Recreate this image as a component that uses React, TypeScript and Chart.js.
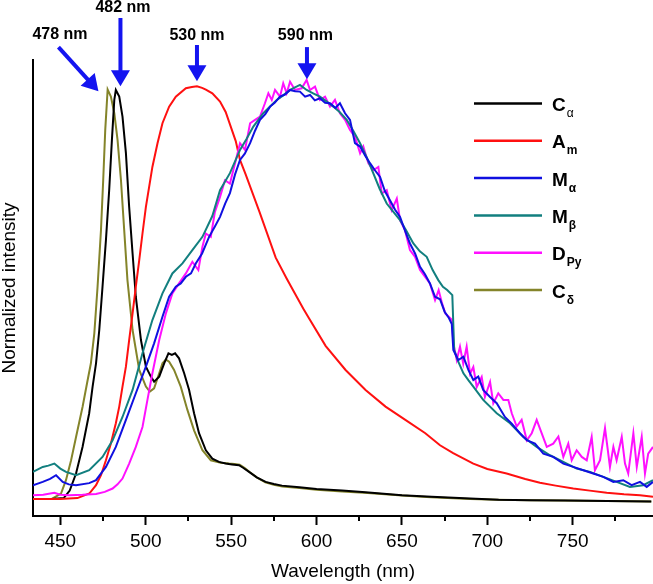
import { useEffect, useRef } from 'react';
import { Chart, registerables } from 'chart.js';

Chart.register(...registerables);

const FONT = "'Liberation Sans', Arial, Helvetica, sans-serif";

const X_MIN = 434;
const X_MAX = 797;
const Y_MIN = -0.031;
const Y_MAX = 1.065;
const majorTicks = [450, 500, 550, 600, 650, 700, 750];
const minorTicks = [475, 525, 575, 625, 675, 725, 775];

const seriesNames = ['Cα', 'Am', 'Mα', 'Mβ', 'DPy', 'Cδ'];
const legendMain = ['C', 'A', 'M', 'M', 'D', 'C'];
const legendSub = ['α', 'm', 'α', 'β', 'Py', 'δ'];
const legendSubBold = [false, true, true, true, true, true];
const seriesColors = ['#000000', '#ff1010', '#1010e0', '#127f7f', '#ff10ff', '#84842a'];

const peakLabels = ['482 nm', '478 nm', '530 nm', '590 nm'];
const peakLabelX = [486.7, 449.8, 530.0, 593.5];
const peakLabelY = [1.192, 1.127, 1.123, 1.123];
const arrowFromX = [485.2, 448.9, 530.0, 594.4];
const arrowFromY = [1.166, 1.096, 1.101, 1.096];
const arrowToX = [485.2, 472.3, 530.0, 594.4];
const arrowToY = [1.002, 0.99, 1.014, 1.019];

const cAlpha = [
  [434, 0.01], [445, 0.01], [452, 0.012], [455.5, 0.03], [459.2, 0.071], [463.0, 0.135], [466.9, 0.216],
  [468.9, 0.28], [470.9, 0.336], [472.8, 0.416], [474.7, 0.52], [476.7, 0.632], [478.6, 0.752],
  [480.2, 0.873], [481.6, 0.969], [482.5, 0.993], [484.5, 0.977], [486.4, 0.929], [488.4, 0.841],
  [490.3, 0.712], [492.3, 0.6], [494.2, 0.496], [497.2, 0.392], [500.1, 0.328], [503.0, 0.304],
  [504.9, 0.292], [507.9, 0.304], [510.8, 0.336], [513.3, 0.36], [515.3, 0.356], [517.2, 0.36],
  [519.5, 0.348], [522.5, 0.312], [525.4, 0.272], [528.3, 0.216], [531.2, 0.168], [535.2, 0.127],
  [539.0, 0.107], [542.9, 0.099], [546.8, 0.095], [550.5, 0.093], [554.6, 0.091], [557.0, 0.085],
  [560.5, 0.075], [565.0, 0.062], [570.2, 0.051], [575.0, 0.046], [579.8, 0.042], [590.0, 0.038],
  [600.0, 0.034], [615.0, 0.03], [628.7, 0.026], [650.0, 0.019], [667.4, 0.015], [690.0, 0.011],
  [706.6, 0.008], [725.0, 0.007], [745.6, 0.006], [770.0, 0.005], [796.0, 0.004],
];

const aM = [
  [434, 0.01], [450, 0.01], [460, 0.012], [467.0, 0.023], [470.9, 0.043], [473.8, 0.067], [476.7, 0.103],
  [479.6, 0.143], [482.5, 0.192], [484.5, 0.232], [486.4, 0.28], [488.4, 0.328], [490.3, 0.392],
  [492.3, 0.456], [494.2, 0.52], [496.2, 0.584], [498.1, 0.648], [500.1, 0.712], [502.0, 0.76],
  [503.9, 0.808], [506.9, 0.865], [509.8, 0.913], [513.7, 0.953], [517.6, 0.977], [523.5, 0.997],
  [527.0, 1.0], [530.0, 1.002], [533.0, 0.998], [535.2, 0.994], [539.0, 0.985], [543.5, 0.965],
  [546.8, 0.94], [552.7, 0.87], [555.2, 0.825], [558.5, 0.79], [566.6, 0.7], [576.1, 0.59],
  [582.5, 0.54], [585.8, 0.515], [592.2, 0.468], [595.5, 0.445], [605.3, 0.378], [617.0, 0.32],
  [628.7, 0.272], [640.4, 0.232], [652.0, 0.2], [663.7, 0.168], [672.3, 0.139], [680, 0.12],
  [691.8, 0.095], [700, 0.082], [711.3, 0.071], [722.2, 0.058], [730.8, 0.049], [740, 0.042],
  [750.3, 0.035], [760, 0.03], [769.9, 0.025], [780, 0.021], [789.4, 0.019], [797, 0.015],
];

const mAlpha = [
  [434, 0.043], [439.7, 0.051], [444, 0.058], [447.5, 0.067], [451.4, 0.051], [455, 0.045], [459.2, 0.043],
  [466.9, 0.048], [470.9, 0.055], [476.7, 0.087], [482.5, 0.135], [488.4, 0.2], [494.2, 0.264],
  [500.1, 0.328], [504.9, 0.384], [509.8, 0.448], [513.7, 0.496], [517.6, 0.52], [520.5, 0.528],
  [523.5, 0.544], [526.5, 0.552], [529.3, 0.576], [533, 0.6], [537.1, 0.64], [540.5, 0.665],
  [543.5, 0.688], [546.5, 0.72], [549.3, 0.745], [552.3, 0.79], [555.2, 0.825], [558, 0.84],
  [561.1, 0.865], [564, 0.895], [566.9, 0.921], [570, 0.935], [572.8, 0.953], [575.5, 0.962],
  [578.6, 0.977], [581.5, 0.982], [584.5, 0.993], [587.5, 0.99], [590.3, 0.989], [593.3, 0.977],
  [596.2, 0.981], [599, 0.968], [602.0, 0.973], [605, 0.962], [607.9, 0.961], [611, 0.95], [613.7, 0.961],
  [616.7, 0.937], [619.6, 0.921], [622.5, 0.865], [625.5, 0.857], [628.5, 0.835], [631.3, 0.817],
  [634.2, 0.8], [637.2, 0.784], [640, 0.75], [643.0, 0.728], [646, 0.705], [648.9, 0.688], [651.8, 0.655],
  [654.7, 0.624], [657.7, 0.6], [660.6, 0.568], [663.5, 0.55], [666.4, 0.528], [669.4, 0.496],
  [672.3, 0.49], [675, 0.46], [677.5, 0.445], [679.2, 0.43], [680.1, 0.368], [683, 0.344], [686, 0.352],
  [688.9, 0.32], [691.8, 0.296], [694.7, 0.304], [697.6, 0.272], [701.6, 0.255], [705.5, 0.24],
  [710.3, 0.207], [714.3, 0.191], [719.1, 0.168], [723.1, 0.151], [727.9, 0.143], [732.8, 0.119],
  [738.6, 0.111], [744.5, 0.095], [750.3, 0.087], [756.2, 0.079], [762.0, 0.071], [767.9, 0.063],
  [773.8, 0.051], [779.6, 0.055], [784.5, 0.043], [789.4, 0.051], [793.3, 0.039], [797, 0.051],
];

const mBeta = [
  [434, 0.075], [439.7, 0.087], [443, 0.09], [446.5, 0.095], [450, 0.083], [453.3, 0.075], [459.2, 0.067],
  [466.9, 0.079], [474.7, 0.111], [480.6, 0.151], [486.4, 0.207], [492.3, 0.272], [498.1, 0.36],
  [503.9, 0.44], [509.8, 0.504], [515.6, 0.552], [521.5, 0.576], [527.3, 0.608], [533.2, 0.64],
  [539.0, 0.69], [543.5, 0.752], [549.3, 0.793], [555.2, 0.849], [559, 0.875], [563.0, 0.905],
  [568.8, 0.937], [572.5, 0.952], [576.7, 0.969], [580.5, 0.98], [584.5, 0.993], [590.3, 1.005],
  [594.2, 0.993], [598, 0.985], [602.0, 0.977], [606, 0.965], [609.8, 0.953], [613.5, 0.94],
  [617.7, 0.921], [621.5, 0.895], [625.5, 0.865], [629.5, 0.83], [633.2, 0.793], [637, 0.755],
  [641.1, 0.72], [645, 0.7], [648.9, 0.68], [652.5, 0.655], [656.7, 0.624], [660.5, 0.605],
  [664.5, 0.592], [668, 0.56], [671.3, 0.536], [674, 0.52], [676.5, 0.512], [679.5, 0.5],
  [680.6, 0.368], [683, 0.34], [686, 0.312], [689, 0.295], [691.8, 0.28], [697.6, 0.248],
  [705.5, 0.216], [713.3, 0.192], [721.1, 0.159], [728.9, 0.135], [736.7, 0.115], [744.5, 0.099],
  [752.3, 0.083], [760.1, 0.075], [767.9, 0.063], [775.7, 0.051], [783.5, 0.039], [791.3, 0.043],
  [797, 0.055],
];

const dPy = [
  [434, 0.019], [440, 0.02], [446.5, 0.025], [450, 0.02], [455.3, 0.019], [463, 0.02], [470.9, 0.022],
  [476, 0.027], [480.6, 0.035], [483.5, 0.045], [486.4, 0.059], [490.3, 0.095], [494.2, 0.135],
  [498.1, 0.183], [501.0, 0.248], [503.9, 0.312], [507.9, 0.392], [511.8, 0.456], [515.6, 0.504],
  [519.5, 0.528], [523.5, 0.552], [527.3, 0.58], [530.8, 0.56], [533.2, 0.616], [535.2, 0.648],
  [538.1, 0.64], [540.5, 0.7], [543.5, 0.736], [546.4, 0.776], [549.3, 0.768], [552.3, 0.817],
  [555.2, 0.865], [558.1, 0.849], [561.1, 0.913], [564.0, 0.921], [566.9, 0.929], [569.8, 0.961],
  [571.8, 0.985], [573.8, 0.969], [575.7, 0.993], [578.6, 0.977], [580.5, 1.009], [582.5, 0.985],
  [584.5, 1.013], [587.4, 0.993], [591.3, 0.997], [594.2, 1.017], [596.2, 0.993], [599.1, 1.001],
  [602.0, 0.969], [605.0, 0.977], [607.9, 0.953], [610.8, 0.969], [613.7, 0.937], [616.7, 0.921],
  [619.6, 0.897], [622.5, 0.881], [625.5, 0.841], [627.4, 0.857], [630.3, 0.817], [633.2, 0.8],
  [636.2, 0.808], [638.2, 0.744], [641.1, 0.752], [644.0, 0.704], [647.0, 0.732], [648.9, 0.68],
  [651.8, 0.656], [654.7, 0.608], [657.7, 0.592], [660.6, 0.56], [663.5, 0.544], [666.4, 0.528],
  [669.4, 0.488], [671.5, 0.512], [673.5, 0.48], [675.4, 0.456], [677.4, 0.448], [679.3, 0.44],
  [680.1, 0.384], [682.1, 0.344], [684.0, 0.376], [685.9, 0.335], [687.9, 0.376], [689.9, 0.311],
  [691.8, 0.327], [693.8, 0.279], [696.7, 0.303], [698.6, 0.255], [701.6, 0.291], [703.5, 0.24],
  [706.4, 0.264], [709.4, 0.248], [712.3, 0.248], [714.3, 0.216], [717.2, 0.184], [720.1, 0.2],
  [723.1, 0.151], [726.0, 0.168], [728.9, 0.2], [731.8, 0.168], [734.8, 0.135], [738.6, 0.143],
  [741.6, 0.16], [744.5, 0.111], [747.4, 0.143], [749.4, 0.103], [752.3, 0.127], [755.3, 0.111],
  [758.2, 0.103], [761.1, 0.159], [763.0, 0.079], [766.0, 0.103], [768.9, 0.18], [771.8, 0.087],
  [773.8, 0.135], [775.7, 0.103], [778.7, 0.159], [780.6, 0.095], [782.5, 0.071], [785.5, 0.168],
  [787.5, 0.087], [790.4, 0.159], [792.3, 0.071], [794.2, 0.119], [797, 0.135],
];

const cDelta = [
  [434, 0.01], [445, 0.01], [450.4, 0.023], [453.3, 0.055], [456.3, 0.103], [459.2, 0.159], [463.0, 0.231],
  [466.0, 0.296], [467.9, 0.336], [469.9, 0.408], [471.8, 0.52], [473.8, 0.656], [475.1, 0.776],
  [476.3, 0.897], [477.7, 0.994], [479.6, 0.977], [481.6, 0.937], [483.5, 0.873], [485.5, 0.776],
  [487.4, 0.656], [489.3, 0.536], [492.3, 0.416], [496.2, 0.32], [500.1, 0.28], [502.4, 0.268],
  [504.9, 0.276], [507.9, 0.312], [509.8, 0.336], [511.8, 0.345], [513.7, 0.34], [516.6, 0.32],
  [520.5, 0.28], [524.4, 0.224], [528.3, 0.175], [533.2, 0.127], [538.1, 0.103], [543.9, 0.097],
  [548.8, 0.095], [552, 0.094], [555, 0.092], [558, 0.084], [561, 0.074], [565, 0.062], [570, 0.05],
  [575, 0.044], [580, 0.04], [590, 0.036], [600, 0.032], [615, 0.028], [630, 0.024], [650, 0.018],
  [667, 0.014], [690, 0.01], [706, 0.008], [725, 0.007], [745, 0.006], [770, 0.005], [796, 0.004],
];

const allSeries = [cAlpha, aM, mAlpha, mBeta, dPy, cDelta];
// draw order: later datasets on top
const drawOrder = [2, 3, 4, 1, 0, 5];

const decorPlugin = {
  id: 'decor',
  afterDraw(chart: any) {
    const { ctx, chartArea, scales } = chart;
    const xs = scales.x;
    const ys = scales.y;
    ctx.save();
    // minor ticks
    ctx.strokeStyle = '#000';
    ctx.lineWidth = 2;
    minorTicks.forEach((v) => {
      const px = Math.round(xs.getPixelForValue(v));
      ctx.beginPath();
      ctx.moveTo(px, chartArea.bottom);
      ctx.lineTo(px, chartArea.bottom + 5);
      ctx.stroke();
    });
    // peak arrows
    for (let i = 0; i < peakLabels.length; i++) {
      const x0 = xs.getPixelForValue(arrowFromX[i]);
      const y0 = ys.getPixelForValue(arrowFromY[i]);
      const x1 = xs.getPixelForValue(arrowToX[i]);
      const y1 = ys.getPixelForValue(arrowToY[i]);
      const len = Math.hypot(x1 - x0, y1 - y0);
      const ux = (x1 - x0) / len;
      const uy = (y1 - y0) / len;
      const headLen = 16;
      const headW = 9.5;
      const bx = x1 - ux * headLen;
      const by = y1 - uy * headLen;
      ctx.fillStyle = '#1414f0';
      ctx.strokeStyle = '#1414f0';
      ctx.lineWidth = 4;
      ctx.beginPath();
      ctx.moveTo(x0, y0);
      ctx.lineTo(bx + ux, by + uy);
      ctx.stroke();
      ctx.beginPath();
      ctx.moveTo(x1, y1);
      ctx.lineTo(bx - uy * headW, by + ux * headW);
      ctx.lineTo(bx + uy * headW, by - ux * headW);
      ctx.closePath();
      ctx.fill();
      ctx.fillStyle = '#000';
      ctx.font = `bold 16px ${FONT}`;
      ctx.textAlign = 'center';
      ctx.textBaseline = 'middle';
      ctx.fillText(peakLabels[i], xs.getPixelForValue(peakLabelX[i]), ys.getPixelForValue(peakLabelY[i]));
    }
    // legend
    const lx0 = chartArea.right - 179;
    const lx1 = chartArea.right - 111;
    const tx = chartArea.right - 101;
    for (let i = 0; i < seriesNames.length; i++) {
      const ry = chartArea.top + 43.5 + i * 37.3;
      ctx.strokeStyle = seriesColors[i];
      ctx.lineWidth = 2.5;
      ctx.beginPath();
      ctx.moveTo(lx0, ry);
      ctx.lineTo(lx1, ry);
      ctx.stroke();
      ctx.fillStyle = '#000';
      ctx.textAlign = 'left';
      ctx.textBaseline = 'alphabetic';
      ctx.font = `bold 19px ${FONT}`;
      ctx.fillText(legendMain[i], tx, ry + 7.5);
      const w = ctx.measureText(legendMain[i]).width;
      ctx.font = `${legendSubBold[i] ? 'bold ' : ''}12px ${FONT}`;
      ctx.fillText(legendSub[i], tx + w + 1, ry + 13.5);
    }
    ctx.restore();
  },
};

export default function App() {
  const ref = useRef<HTMLCanvasElement>(null);
  useEffect(() => {
    const canvas = ref.current;
    if (!canvas) return;
    const datasets = drawOrder.map((i) => ({
      label: seriesNames[i],
      data: allSeries[i].map(([x, y]) => ({ x, y })),
      borderColor: seriesColors[i],
      backgroundColor: seriesColors[i],
      borderWidth: 2,
      pointRadius: 0,
      tension: 0,
      fill: false,
    }));
    const chart = new Chart(canvas, {
      type: 'line',
      data: { datasets },
      options: {
        responsive: false,
        maintainAspectRatio: false,
        animation: false,
        devicePixelRatio: 1,
        layout: { padding: { top: 60, right: 0, bottom: 0, left: 0 } },
        plugins: { legend: { display: false }, tooltip: { enabled: false } },
        scales: {
          x: {
            type: 'linear',
            min: X_MIN,
            max: X_MAX,
            afterBuildTicks: (s: any) => {
              s.ticks = majorTicks.map((v) => ({ value: v }));
            },
            afterFit: (s: any) => {
              s.height = 68;
            },
            ticks: {
              font: { family: FONT, size: 19, lineHeight: 1 },
              color: '#000',
              padding: 7.5,
              maxRotation: 0,
              autoSkip: false,
            },
            grid: {
              display: true,
              drawOnChartArea: false,
              drawTicks: true,
              tickLength: 9,
              tickWidth: 2,
              color: '#000',
            },
            border: { display: true, color: '#000', width: 2 },
            title: {
              display: true,
              text: 'Wavelength (nm)',
              font: { family: FONT, size: 19, lineHeight: 1 },
              color: '#000',
              padding: { top: 0, bottom: 2.5 },
            },
          },
          y: {
            type: 'linear',
            min: Y_MIN,
            max: Y_MAX,
            afterFit: (s: any) => {
              s.width = 33;
            },
            ticks: { display: false },
            grid: { display: false },
            border: { display: true, color: '#000', width: 2 },
            title: {
              display: true,
              text: 'Normalized intensity',
              font: { family: FONT, size: 19, lineHeight: 1 },
              color: '#000',
              padding: 0,
            },
          },
        },
      },
      plugins: [decorPlugin],
    });
    return () => chart.destroy();
  }, []);
  return (
    <div style={{ position: 'absolute', left: 0, top: 0, width: 653, height: 584, background: '#fff' }}>
      <canvas ref={ref} width={653} height={584} style={{ display: 'block', width: 653, height: 584 }} />
    </div>
  );
}
